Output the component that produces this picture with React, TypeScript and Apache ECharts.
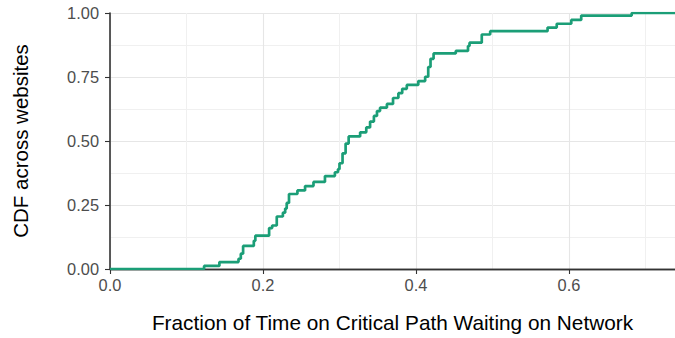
import React, { useEffect, useRef } from "react";
import * as echarts from "echarts";

// Empirical CDF: fraction of time on the critical path spent waiting on network
const stepX = [
  0, 0.123, 0.143, 0.168, 0.171, 0.174, 0.188, 0.19, 0.208, 0.212, 0.218, 0.226,
  0.229, 0.231, 0.234, 0.245, 0.255, 0.266, 0.281, 0.294, 0.298, 0.3, 0.304,
  0.308, 0.312, 0.327, 0.335, 0.34, 0.345, 0.349, 0.353, 0.362, 0.37, 0.377,
  0.382, 0.388, 0.403, 0.412, 0.416, 0.419, 0.423, 0.452, 0.468, 0.47, 0.486,
  0.497, 0.572, 0.584, 0.603, 0.616, 0.682, 0.76,
];
const cdfValues = [
  0, 0.012, 0.027, 0.04, 0.06, 0.09, 0.11, 0.13, 0.16, 0.17, 0.205, 0.22,
  0.236, 0.258, 0.293, 0.307, 0.324, 0.34, 0.363, 0.378, 0.39, 0.413, 0.452,
  0.49, 0.518, 0.534, 0.553, 0.576, 0.598, 0.617, 0.63, 0.645, 0.668, 0.687,
  0.704, 0.719, 0.734, 0.751, 0.789, 0.821, 0.842, 0.852, 0.871, 0.884, 0.916,
  0.929, 0.943, 0.958, 0.973, 0.99, 1.0, 1.0,
];

const xTicks = [0, 0.2, 0.4, 0.6];
const yTicks = [0, 0.25, 0.5, 0.75, 1.0];
const xMax = 0.7386;

const FONT = "Liberation Sans, Arial, Helvetica, sans-serif";

export default function App() {
  const ref = useRef<HTMLDivElement>(null);

  useEffect(() => {
    if (!ref.current) return;
    const chart = echarts.init(ref.current, undefined, { renderer: "svg" });
    const points = stepX.map((x, i) => [x, cdfValues[i]]);

    const tickLabel = {
      color: "#4d4d4d",
      fontSize: 16.4,
      fontFamily: FONT,
    };

    chart.setOption({
      animation: false,
      backgroundColor: "#ffffff",
      grid: { left: 110, right: 0, top: 13, bottom: 63, containLabel: false },
      xAxis: [
        {
          type: "value",
          position: "bottom",
          min: 0,
          max: xMax,
          interval: 0.2,
          name: "Fraction of Time on Critical Path Waiting on Network",
          nameLocation: "middle",
          nameGap: 43,
          nameTextStyle: { color: "#000", fontSize: 20.8, fontFamily: FONT },
          axisLine: { show: true, lineStyle: { color: "#333333", width: 1.3 } },
          axisTick: { show: true, length: 5, lineStyle: { color: "#333333", width: 1.1 } },
          axisLabel: {
            ...tickLabel,
            margin: 8,
            showMaxLabel: false,
            formatter: (v: number) =>
              xTicks.some((t) => Math.abs(t - v) < 1e-9) ? v.toFixed(1) : "",
          },
          splitLine: { show: false },
        },
        {
          type: "value",
          position: "top",
          min: 0,
          max: xMax,
          interval: 0.1,
          axisLine: { show: true, lineStyle: { color: "#333333", width: 1.4 } },
          axisTick: { show: false },
          axisLabel: { show: false },
          splitLine: {
            show: true,
            lineStyle: { color: ["#e6e6e6", "#f0f0f0"], width: 1.1 },
          },
        },
      ],
      yAxis: [
        {
          type: "value",
          position: "left",
          min: 0,
          max: 1,
          interval: 0.25,
          name: "CDF across websites",
          nameLocation: "middle",
          nameRotate: 90,
          nameGap: 79,
          nameTextStyle: { color: "#000", fontSize: 20.5, fontFamily: FONT },
          axisLine: { show: true, lineStyle: { color: "#333333", width: 1.6 } },
          axisTick: { show: true, length: 5, lineStyle: { color: "#333333", width: 1.1 } },
          axisLabel: {
            ...tickLabel,
            margin: 11,
            formatter: (v: number) =>
              yTicks.some((t) => Math.abs(t - v) < 1e-9) ? v.toFixed(2) : "",
          },
          splitLine: { show: false },
        },
        {
          type: "value",
          position: "right",
          min: 0,
          max: 1,
          interval: 0.125,
          axisLine: { show: false },
          axisTick: { show: false },
          axisLabel: { show: false },
          splitLine: {
            show: true,
            lineStyle: { color: ["#e6e6e6", "#f0f0f0"], width: 1.1 },
          },
        },
      ],
      series: [
        {
          type: "line",
          xAxisIndex: 0,
          yAxisIndex: 0,
          data: points,
          step: "end",
          showSymbol: false,
          symbol: "none",
          clip: true,
          lineStyle: { color: "#1b9e77", width: 2.7 },
          z: 3,
        },
      ],
    });

    return () => chart.dispose();
  }, []);

  return (
    <div
      ref={ref}
      style={{ width: 675, height: 338, position: "absolute", left: 0, top: 0 }}
    />
  );
}
